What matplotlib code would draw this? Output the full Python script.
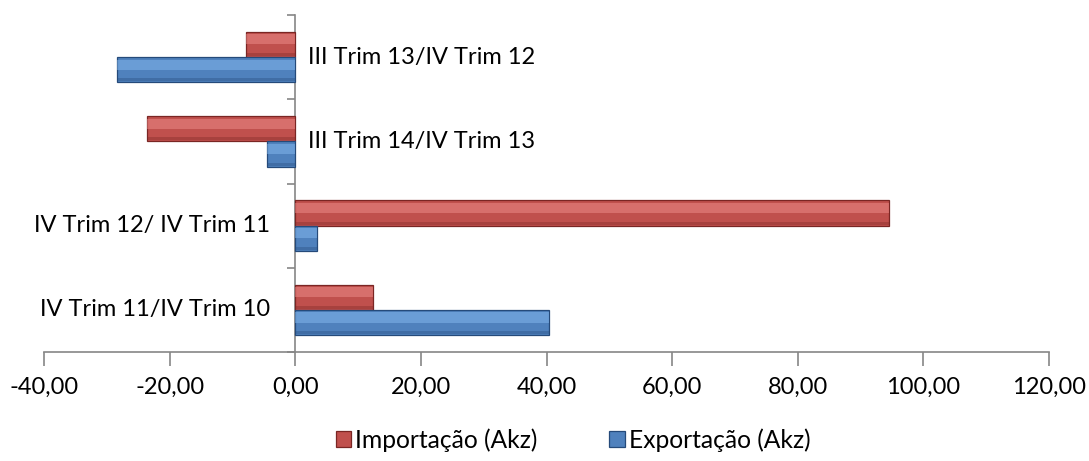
import matplotlib.pyplot as plt
import numpy as np

# categories bottom to top
categories = ["IV Trim 11/IV Trim 10", "IV Trim 12/ IV Trim 11",
              "III Trim 14/IV Trim 13", "III Trim 13/IV Trim 12"]
importacao = [12.3, 94.5, -23.6, -7.8]
exportacao = [40.4, 3.4, -4.5, -28.3]
series_names = ["Importação (Akz)", "Exportação (Akz)"]

plt.rcParams['font.family'] = ['Lato', 'DejaVu Sans']

fig = plt.figure(figsize=(10.89, 4.61), dpi=100)
ax = fig.add_axes([44 / 1089, 1 - 352 / 461, (1049 - 44) / 1089, (352 - 15) / 461])

y = np.arange(len(categories))
h = 0.3

def bevel_bars(ypos, vals, base, light, dark, label):
    ax.barh(ypos, vals, height=h, color=base, edgecolor=dark, linewidth=0.9,
            label=label, zorder=3)
    ax.barh(ypos + h * 0.2, vals, height=h * 0.4, color=light, linewidth=0,
            zorder=4, alpha=0.45)
    ax.barh(ypos - h * 0.4, vals, height=h * 0.12, color=dark, linewidth=0,
            zorder=4, alpha=0.35)

bevel_bars(y + h / 2, importacao, "#C0504D", "#F59592", "#7A2624", series_names[0])
bevel_bars(y - h / 2, exportacao, "#4F81BD", "#8CC0F5", "#254A7A", series_names[1])

ax.set_xlim(-40, 120)
ax.set_ylim(-0.5, len(categories) - 0.5)
ax.set_xticks(np.arange(-40, 121, 20))
ax.set_xticklabels([f"{v:.2f}".replace(".", ",") for v in np.arange(-40, 121, 20)])
ax.set_yticks(np.arange(-0.5, len(categories), 1.0))
ax.set_yticklabels([])

ax.spines['left'].set_position(('data', 0))
ax.spines['top'].set_visible(False)
ax.spines['right'].set_visible(False)
for s in ['left', 'bottom']:
    ax.spines[s].set_color("#868686")
    ax.spines[s].set_linewidth(1.2)
ax.tick_params(axis='x', length=10, width=1.2, color="#868686", labelsize=17, pad=8)
ax.tick_params(axis='y', length=6, width=1.2, color="#868686")

for yi, name, vi, ve in zip(y, categories, importacao, exportacao):
    if min(vi, ve) < 0:
        ax.annotate(name, (0, yi), xytext=(13, 0), textcoords='offset pixels',
                    ha='left', va='center', fontsize=17)
    else:
        ax.annotate(name, (0, yi), xytext=(-25, 0), textcoords='offset pixels',
                    ha='right', va='center', fontsize=17)

handles, labels = ax.get_legend_handles_labels()
fig.legend(handles[:2], labels[:2], loc='lower center', bbox_to_anchor=(0.526, -0.028),
           ncol=2, frameon=False, fontsize=17.7, handlelength=0.65, handleheight=0.65,
           columnspacing=2.9, handletextpad=0.15)

fig.savefig("out.png", dpi=100)
